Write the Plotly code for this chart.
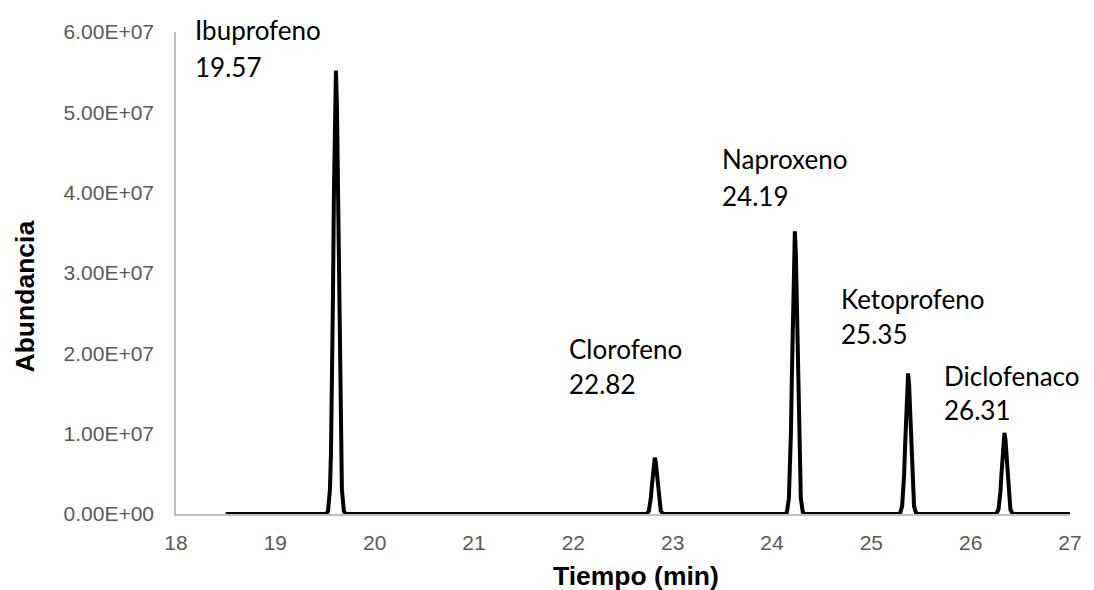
import plotly.graph_objects as go

# ---- data ----
# baseline start / end
baseline_time = [18.50, 27.00]

ibu_time = [19.51, 19.53, 19.55, 19.56, 19.57, 19.58, 19.59, 19.60, 19.61, 19.62, 19.63, 19.64, 19.65, 19.66, 19.67, 19.69, 19.71]
ibu_abund = [0, 3.3e5, 3.1e6, 7.5e6, 1.53e7, 2.69e7, 4.01e7, 5.10e7, 5.52e7, 5.10e7, 4.01e7, 2.69e7, 1.53e7, 7.5e6, 3.1e6, 3.3e5, 0]

clo_time = [22.72, 22.74, 22.76, 22.77, 22.78, 22.79, 22.80, 22.81, 22.82, 22.83, 22.84, 22.85, 22.86, 22.87, 22.88, 22.90, 22.92]
clo_abund = [0, 4e4, 3.9e5, 9.5e5, 1.95e6, 3.41e6, 5.08e6, 6.46e6, 7.0e6, 6.46e6, 5.08e6, 3.41e6, 1.95e6, 9.5e5, 3.9e5, 4e4, 0]

nap_time = [24.13, 24.15, 24.17, 24.18, 24.19, 24.20, 24.21, 24.22, 24.23, 24.24, 24.25, 24.26, 24.27, 24.28, 24.29, 24.31, 24.33]
nap_abund = [0, 2.1e5, 1.97e6, 4.75e6, 9.79e6, 1.714e7, 2.556e7, 3.249e7, 3.52e7, 3.249e7, 2.556e7, 1.714e7, 9.79e6, 4.75e6, 1.97e6, 2.1e5, 0]

ket_time = [25.27, 25.29, 25.31, 25.32, 25.33, 25.34, 25.35, 25.36, 25.37, 25.38, 25.39, 25.40, 25.41, 25.42, 25.43, 25.45, 25.47]
ket_abund = [0, 1.05e5, 9.8e5, 2.36e6, 4.87e6, 8.52e6, 1.271e7, 1.615e7, 1.75e7, 1.615e7, 1.271e7, 8.52e6, 4.87e6, 2.36e6, 9.8e5, 1.05e5, 0]

dic_time = [26.24, 26.26, 26.28, 26.29, 26.30, 26.31, 26.32, 26.33, 26.34, 26.35, 26.36, 26.37, 26.38, 26.39, 26.40, 26.42, 26.44]
dic_abund = [0, 6e4, 5.7e5, 1.36e6, 2.81e6, 4.92e6, 7.33e6, 9.32e6, 1.01e7, 9.32e6, 7.33e6, 4.92e6, 2.81e6, 1.36e6, 5.7e5, 6e4, 0]

# peak labels
label_names = ["Ibuprofeno", "Clorofeno", "Naproxeno", "Ketoprofeno", "Diclofenaco"]
label_rts = ["19.57", "22.82", "24.19", "25.35", "26.31"]
label_x = [18.17, 21.94, 23.48, 24.67, 25.71]
label_name_y = [5.80e7, 1.835e7, 4.19e7, 2.45e7, 1.50e7]
label_rt_y = [5.34e7, 1.39e7, 3.74e7, 2.02e7, 1.07e7]

x_ticks = [18, 19, 20, 21, 22, 23, 24, 25, 26, 27]
y_ticks = [0, 1e7, 2e7, 3e7, 4e7, 5e7, 6e7]
y_tick_labels = ["0.00E+00", "1.00E+07", "2.00E+07", "3.00E+07", "4.00E+07", "5.00E+07", "6.00E+07"]

x_title = "Tiempo (min)"
y_title = "Abundancia"

# ---- assemble the trace ----
time = [baseline_time[0]] + ibu_time + clo_time + nap_time + ket_time + dic_time + [baseline_time[1]]
abund = [0] + ibu_abund + clo_abund + nap_abund + ket_abund + dic_abund + [0]

fig = go.Figure()
fig.add_trace(go.Scatter(
    x=time, y=abund, mode="lines",
    line=dict(color="black", width=4),
    showlegend=False, hoverinfo="skip", cliponaxis=False,
))

label_font = dict(family="Lato, Noto Sans, sans-serif", size=26, color="black")
annotations = []
for name, rt, x, yn, yr in zip(label_names, label_rts, label_x, label_name_y, label_rt_y):
    for txt, yy in ((name, yn), (rt, yr)):
        annotations.append(dict(
            x=x, y=yy, xref="x", yref="y", text=txt, showarrow=False,
            xanchor="left", yanchor="bottom", font=label_font,
        ))

title_font = dict(family="Liberation Sans, Arial, sans-serif", size=26.5, color="black")
annotations.append(dict(
    x=0.515, y=-0.0924, xref="paper", yref="paper", text="<b>" + x_title + "</b>",
    showarrow=False, xanchor="center", yanchor="top", font=title_font,
))
annotations.append(dict(
    x=-0.1687, y=0.4517, xref="paper", yref="paper", text="<b>" + y_title + "</b>",
    showarrow=False, xanchor="center", yanchor="middle", textangle=-90, font=title_font,
))

tick_font = dict(family="Liberation Sans, Arial, sans-serif", size=21, color="#595959")

# the page body has an 8px margin, so the figure is shifted 8px right/down
fig.update_layout(
    width=1086, height=582,
    margin=dict(l=168, r=17, t=19, b=76),
    paper_bgcolor="white", plot_bgcolor="white",
    annotations=annotations,
    xaxis=dict(
        range=[18, 27], tickvals=x_ticks, ticktext=[str(v) for v in x_ticks],
        showgrid=False, zeroline=False, showline=True, linecolor="#bfbfbf", linewidth=1.5,
        ticks="", tickfont=tick_font, ticklabelstandoff=9,
    ),
    yaxis=dict(
        range=[0, 6e7], tickvals=y_ticks, ticktext=y_tick_labels,
        showgrid=False, zeroline=False, showline=True, linecolor="#bfbfbf", linewidth=1.5,
        ticks="", tickfont=tick_font, ticklabelstandoff=16,
    ),
)

fig.write_html("out.html")
